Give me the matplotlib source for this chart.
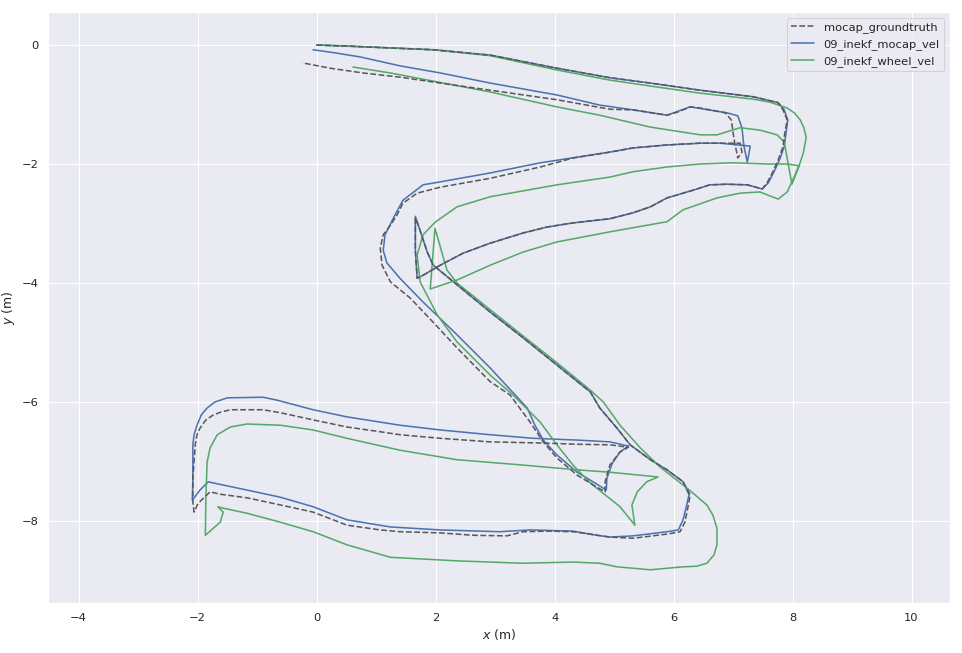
import matplotlib
matplotlib.use("Agg")
import matplotlib.pyplot as plt
import seaborn as sns

# ---------------- data (metres) ----------------
gt_x = [0.00, 0.56, 1.24, 1.96, 2.92, 4.04, 4.93, 5.61, 6.45, 7.34, 7.76, 7.84, 7.91, 7.87, 7.84, 7.76, 7.67, 7.57, 7.49,
        7.24, 6.90, 6.61, 6.33, 5.89, 5.61, 5.32, 4.93, 4.31, 3.87, 3.47, 2.92, 2.46, 2.08, 1.79, 1.69,
        1.66, 1.66,
        1.71, 1.86, 1.96, 2.36, 2.92, 3.47, 4.04, 4.60, 4.76, 5.05, 5.27, 5.61, 5.89, 6.16, 6.28, 6.24, 6.19, 6.11,
        5.89, 5.32, 4.93, 4.31, 3.92, 3.47, 3.20, 2.63, 2.08, 1.40, 1.07, 0.51, -0.06, -0.61, -1.17, -1.62, -1.79,
        -1.99, -2.06,
        -2.08, -2.08, -2.04, -2.01, -1.96, -1.86, -1.74, -1.61, -1.45, -0.90, -0.61, -0.06, 0.51, 1.07, 1.40, 2.08,
        2.92, 3.81, 4.38, 4.93, 5.24,
        5.10, 4.93, 4.85, 4.85,
        4.71, 4.38, 4.04, 3.81, 3.59, 3.25, 2.92, 2.36, 1.96, 1.57, 1.24, 1.10, 1.07, 1.12, 1.24, 1.35, 1.45,
        1.69, 2.08, 2.92, 3.76, 4.31, 4.93, 5.32, 5.89, 6.45, 6.90, 7.12,
        7.15, 7.08, 7.02, 6.97, 6.87,
        6.45, 6.28, 6.06, 5.89, 5.32, 4.93, 4.04, 2.92, 2.08, 1.40, 0.78, 0.23, -0.24]
gt_y = [0.00, -0.02, -0.05, -0.08, -0.17, -0.39, -0.55, -0.64, -0.76, -0.87, -0.97, -1.09, -1.26, -1.48, -1.71,
        -1.93, -2.13, -2.32, -2.42,
        -2.35, -2.34, -2.35, -2.44, -2.57, -2.72, -2.82, -2.92, -2.99, -3.06, -3.16, -3.33, -3.50, -3.70, -3.87,
        -3.92,
        -3.45, -2.91,
        -3.03, -3.48, -3.70, -4.03, -4.49, -4.92, -5.38, -5.83, -6.10, -6.44, -6.72, -6.97, -7.14, -7.34, -7.56,
        -7.78, -8.02, -8.18,
        -8.22, -8.29, -8.27, -8.18, -8.17, -8.18, -8.25, -8.24, -8.20, -8.18, -8.15, -8.07, -7.85, -7.73, -7.61,
        -7.55, -7.51,
        -7.70, -7.85,
        -7.68, -7.28, -6.72, -6.55, -6.44, -6.30, -6.22, -6.17, -6.13, -6.13, -6.18, -6.30, -6.42, -6.50, -6.55,
        -6.61, -6.67, -6.69, -6.71, -6.72, -6.76,
        -6.84, -7.06, -7.34, -7.51,
        -7.43, -7.23, -6.94, -6.67, -6.34, -5.88, -5.66, -5.09, -4.66, -4.25, -3.98, -3.70, -3.41, -3.19, -3.03,
        -2.86, -2.66,
        -2.49, -2.39, -2.24, -2.05, -1.90, -1.80, -1.73, -1.68, -1.65, -1.65, -1.65,
        -1.80, -1.90, -1.60, -1.26, -1.14,
        -1.06, -1.04, -1.13, -1.18, -1.09, -1.08, -0.92, -0.76, -0.64, -0.54, -0.47, -0.39, -0.30]

mocap_x = [0.00, 0.56, 1.24, 1.96, 2.92, 4.04, 4.93, 5.61, 6.45, 7.34, 7.76, 7.86, 7.92, 7.89, 7.86, 7.78, 7.69,
           7.59, 7.49,
           7.24, 6.90, 6.61, 6.33, 5.89, 5.61, 5.32, 4.93, 4.31, 3.87, 3.47, 2.92, 2.46, 2.08, 1.79, 1.69,
           1.66, 1.66,
           1.71, 1.86, 1.96, 2.36, 2.92, 3.47, 4.04, 4.60, 4.76, 5.05, 5.27, 5.61, 5.89, 6.16, 6.26, 6.21, 6.16,
           6.08,
           5.89, 5.32, 4.93, 4.71, 4.31, 3.59, 3.08, 2.08, 1.24, 0.51, -0.06, -0.61, -1.17, -1.74, -1.82,
           -1.96, -2.09,
           -2.08, -2.08, -2.06, -2.01, -1.94, -1.84, -1.71, -1.50, -0.90, -0.66, -0.06, 0.51, 1.40, 2.08, 2.92,
           3.64, 4.38, 4.93, 5.24,
           5.10, 4.97, 4.88, 4.87,
           4.71, 4.38, 4.04, 3.81, 3.67, 3.54, 2.92, 2.36, 1.79, 1.40, 1.18, 1.12, 1.15, 1.29, 1.45,
           1.79, 2.08, 2.92, 3.76, 4.93, 5.32, 5.89, 6.45, 6.78, 7.29,
           7.24, 7.18, 7.15, 7.08, 6.90,
           6.28, 5.89, 5.32, 4.76, 4.04, 2.92, 2.08, 1.40, 0.73, 0.23, -0.06]
mocap_y = [0.00, -0.02, -0.05, -0.08, -0.17, -0.39, -0.55, -0.64, -0.76, -0.87, -0.97, -1.09, -1.26, -1.48, -1.71,
           -1.93, -2.13, -2.32, -2.42,
           -2.35, -2.34, -2.35, -2.44, -2.57, -2.72, -2.82, -2.92, -2.99, -3.06, -3.16, -3.33, -3.50, -3.70,
           -3.87, -3.92,
           -3.45, -2.88,
           -3.03, -3.48, -3.70, -4.03, -4.49, -4.92, -5.38, -5.83, -6.10, -6.44, -6.72, -6.97, -7.14, -7.34,
           -7.56, -7.78, -7.98, -8.15,
           -8.18, -8.25, -8.27, -8.24, -8.17, -8.15, -8.18, -8.15, -8.10, -7.98, -7.76, -7.60, -7.48, -7.36,
           -7.34,
           -7.48, -7.65,
           -7.31, -6.72, -6.55, -6.39, -6.22, -6.10, -6.00, -5.93, -5.92, -5.97, -6.13, -6.25, -6.39, -6.47,
           -6.55, -6.61, -6.64, -6.67, -6.74,
           -6.84, -7.03, -7.28, -7.48,
           -7.38, -7.18, -6.89, -6.64, -6.39, -6.10, -5.43, -4.87, -4.32, -3.92, -3.66, -3.45, -3.19, -2.91,
           -2.61,
           -2.35, -2.30, -2.15, -1.98, -1.80, -1.73, -1.68, -1.65, -1.65, -1.70,
           -1.97, -1.68, -1.39, -1.19, -1.14,
           -1.04, -1.18, -1.09, -1.01, -0.84, -0.64, -0.47, -0.35, -0.20, -0.12, -0.08]

wheel_x = [0.00, 1.24, 1.96, 2.92, 4.04, 4.93, 5.61, 6.45, 7.34, 7.62, 7.91, 8.03, 8.13, 8.19, 8.23, 8.18, 8.11,
           7.99, 7.91, 7.76,
           7.45, 7.12, 6.73, 6.16, 5.89, 4.93, 4.04, 3.47, 2.92, 2.36, 1.91,
           1.99, 2.19, 2.36,
           2.92, 3.47, 4.04, 4.60, 4.82, 5.10, 5.44, 5.77, 6.23, 6.56, 6.66, 6.73, 6.73, 6.68, 6.56, 6.39, 6.16,
           5.61, 5.05, 4.76,
           4.31, 3.47, 2.36, 1.24, 0.51, -0.06, -0.61, -1.17, -1.59, -1.66,
           -1.57, -1.62, -1.87,
           -1.86, -1.84, -1.79, -1.67, -1.45, -1.17, -0.61, -0.06, 0.51, 1.40, 2.36, 3.47, 4.38, 4.93, 5.74,
           5.55, 5.39, 5.30, 5.35,
           5.10, 4.85, 4.60, 4.31, 4.04, 3.76, 3.30, 2.92, 2.36, 2.03, 1.74, 1.69, 1.79, 1.99, 2.36, 2.92,
           4.04, 4.93, 5.32, 5.89, 6.45, 7.00, 7.57, 7.91, 8.11,
           7.99, 7.86,
           7.74, 7.45, 7.12, 6.73, 6.45, 5.61, 4.76, 4.04, 2.92, 1.24, 0.61]
wheel_y = [0.00, -0.05, -0.08, -0.18, -0.42, -0.59, -0.69, -0.81, -0.91, -0.96, -1.06, -1.14, -1.26, -1.39, -1.55,
           -1.82, -2.03, -2.30, -2.47, -2.59,
           -2.47, -2.49, -2.57, -2.77, -2.97, -3.14, -3.31, -3.48, -3.70, -3.95, -4.10,
           -3.08, -3.78, -4.00,
           -4.45, -4.89, -5.34, -5.80, -6.00, -6.39, -6.77, -7.09, -7.45, -7.73, -7.90, -8.12, -8.40, -8.57,
           -8.71, -8.76, -8.77, -8.82, -8.77, -8.71,
           -8.69, -8.71, -8.67, -8.61, -8.40, -8.18, -8.02, -7.87, -7.78, -7.76,
           -7.85, -8.02, -8.24,
           -7.56, -7.01, -6.77, -6.55, -6.42, -6.37, -6.39, -6.47, -6.61, -6.81, -6.97, -7.06, -7.14, -7.18,
           -7.26,
           -7.34, -7.51, -7.73, -8.07,
           -7.76, -7.56, -7.36, -7.06, -6.72, -6.34, -5.88, -5.55, -4.99, -4.54, -3.98, -3.53, -3.19, -2.98,
           -2.72, -2.55,
           -2.35, -2.22, -2.13, -2.05, -2.00, -1.98, -2.00, -2.00, -2.03,
           -2.34, -1.63,
           -1.51, -1.43, -1.39, -1.51, -1.51, -1.38, -1.18, -1.04, -0.79, -0.47, -0.37]

series_labels = ["mocap_groundtruth", "09_inekf_mocap_vel", "09_inekf_wheel_vel"]
x_ticks = [-4, -2, 0, 2, 4, 6, 8, 10]
y_ticks = [0, -2, -4, -6, -8]

# ---------------- drawing ----------------
sns.set_theme(style="darkgrid")
deep = sns.color_palette("deep")

DPI = 75
fig = plt.figure(figsize=(962 / DPI, 653 / DPI), dpi=DPI)
ax = fig.add_axes([48.3 / 962, 1 - 603.3 / 653, (950 - 48.3) / 962, (603.3 - 12) / 653])

ax.plot(gt_x, gt_y, linestyle="--", color="#58585c", label=series_labels[0], zorder=4)
ax.plot(mocap_x, mocap_y, color=deep[0], label=series_labels[1], zorder=2)
ax.plot(wheel_x, wheel_y, color=deep[2], label=series_labels[2], zorder=3)

ax.set_xlim(-4.51, (950 - 316.5) / 59.5)
ax.set_ylim(-(603.3 - 45) / 59.5, 33 / 59.5)
ax.set_xticks(x_ticks)
ax.set_yticks(y_ticks)
ax.set_xlabel("$x$ (m)")
ax.set_ylabel("$y$ (m)")
ax.legend(loc="upper right")

fig.savefig("out.png", dpi=DPI)
